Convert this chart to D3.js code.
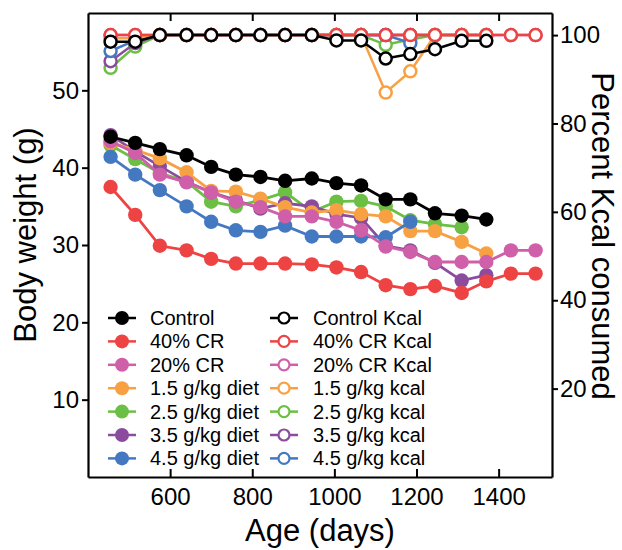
<!DOCTYPE html>
<html>
<head>
<meta charset="utf-8">
<script src="https://cdn.jsdelivr.net/npm/d3@7"></script>
<style>
  body { margin: 0; background: #fff; }
  text { font-family: Arial, "Liberation Sans", sans-serif; fill: #000; }
</style>
</head>
<body>
<div id="chart"></div>
<script>
// ages (days) at which the measurements were taken
const ages = [455, 515, 575, 640, 700, 760, 820, 880, 945, 1005, 1065, 1125, 1185, 1245, 1310, 1370, 1430, 1490];

// body weight (g)
const bwControl = [44.0, 43.2, 42.4, 41.6, 40.1, 39.1, 38.8, 38.3, 38.6, 38.0, 37.7, 35.9, 35.9, 34.1, 33.8, 33.3];
const bwCR40 = [37.5, 33.9, 29.9, 29.3, 28.2, 27.6, 27.6, 27.6, 27.5, 27.1, 26.5, 24.8, 24.3, 24.7, 23.8, 25.3, 26.3, 26.3];
const bwCR20 = [43.4, 41.9, 39.1, 38.1, 36.8, 35.6, 34.9, 33.7, 33.7, 33.0, 31.9, 29.8, 29.1, 27.8, 27.8, 27.8, 29.3, 29.3];
const bwD15 = [43.2, 42.3, 41.2, 39.4, 37.0, 36.9, 36.0, 34.9, 34.2, 34.5, 34.0, 33.7, 31.8, 31.8, 30.4, 28.9];
const bwD25 = [42.9, 41.1, 39.3, 38.2, 35.6, 35.0, 35.8, 36.8, 34.3, 35.6, 35.7, 35.0, 33.2, 32.7, 32.3];
const bwD35 = [44.2, 42.1, 40.2, 38.2, 36.8, 35.8, 34.7, 35.4, 35.0, 34.0, 33.5, 29.9, 29.3, 27.7, 25.4, 26.1];
const bwD45 = [41.4, 39.1, 37.1, 35.0, 33.0, 31.9, 31.7, 32.5, 31.1, 31.1, 31.1, 31.0, 33.0];

// percent kcal consumed
const kcControl = [98.5, 98.5, 100, 100, 100, 100, 100, 100, 100, 98.8, 98.8, 94.7, 95.7, 96.8, 98.7, 98.7];
const kcCR40 = [100, 100, 100, 100, 100, 100, 100, 100, 100, 100, 100, 100, 100, 100, 100, 100, 100, 100];
const kcCR20 = [100, 100, 100, 100, 100, 100, 100, 100, 100, 100, 100, 100, 100, 100, 100, 100, 100, 100];
const kcD15 = [99.3, 99.3, 100, 100, 100, 100, 100, 100, 100, 100, 100, 87.0, 91.8, 100, 100, 100];
const kcD25 = [92.6, 97.4, 100, 100, 100, 100, 100, 100, 100, 100, 100, 97.8, 99.0, 100, 100];
const kcD35 = [94.1, 98.2, 100, 100, 100, 100, 100, 100, 100, 100, 100, 100, 100, 100, 100, 100];
const kcD45 = [96.4, 98.8, 100, 100, 100, 100, 100, 100, 100, 100, 100, 100, 98.2];

const xTicks = [600, 800, 1000, 1200, 1400];
const yLeftTicks = [10, 20, 30, 40, 50];
const yRightTicks = [20, 40, 60, 80, 100];

const colors = {
    control: "#000000", cr40: "#ee4343", cr20: "#d05fa9",
    d15: "#f8a143", d25: "#6cbf45", d35: "#8b4c9e", d45: "#4479c2"
};

// series lists: order is the drawing order (last on top)
let bwSeries = [
    {name: "2.5 g/kg diet", key: "d25", values: bwD25},
    {name: "3.5 g/kg diet", key: "d35", values: bwD35},
    {name: "1.5 g/kg diet", key: "d15", values: bwD15},
    {name: "4.5 g/kg diet", key: "d45", values: bwD45},
    {name: "40% CR", key: "cr40", values: bwCR40},
    {name: "20% CR", key: "cr20", values: bwCR20},
    {name: "Control", key: "control", values: bwControl}
];
let kcSeries = [
    {name: "20% CR Kcal", key: "cr20", values: kcCR20},
    {name: "2.5 g/kg kcal", key: "d25", values: kcD25},
    {name: "3.5 g/kg kcal", key: "d35", values: kcD35},
    {name: "4.5 g/kg kcal", key: "d45", values: kcD45},
    {name: "1.5 g/kg kcal", key: "d15", values: kcD15},
    {name: "40% CR Kcal", key: "cr40", values: kcCR40},
    {name: "Control Kcal", key: "control", values: kcControl}
];
const legendLeft = ["control", "cr40", "cr20", "d15", "d25", "d35", "d45"];
const legendLeftNames = ["Control", "40% CR", "20% CR", "1.5 g/kg diet", "2.5 g/kg diet", "3.5 g/kg diet", "4.5 g/kg diet"];
const legendRightNames = ["Control Kcal", "40% CR Kcal", "20% CR Kcal", "1.5 g/kg kcal", "2.5 g/kg kcal", "3.5 g/kg kcal", "4.5 g/kg kcal"];

const width = 622, height = 550;
const margin = {top: 13, right: 70, bottom: 73, left: 88};
const plotW = width - margin.left - margin.right;
const plotH = height - margin.top - margin.bottom;

let svg = d3.select("#chart")
    .append("svg")
    .attr("width", width)
    .attr("height", height)
    .append("g")
    .attr("transform", `translate(${margin.left}, ${margin.top})`);

let x = d3.scaleLinear().domain([400, 1530]).range([0, plotW]);
let yL = d3.scaleLinear().domain([0, 60]).range([plotH, 0]);
let yR = d3.scaleLinear().domain([0, 105]).range([plotH, 0]);

// axes
svg.append("g")
    .attr("transform", `translate(0, ${plotH})`)
    .call(d3.axisBottom(x).tickValues(xTicks).tickFormat(d3.format("d"))
        .tickSize(-8).tickPadding(11).tickSizeOuter(0));
svg.append("g")
    .call(d3.axisTop(x).tickValues(xTicks).tickSize(-8).tickFormat("").tickSizeOuter(0));
svg.append("g")
    .call(d3.axisLeft(yL).tickValues(yLeftTicks).tickSize(6).tickPadding(3).tickSizeOuter(0));
svg.append("g")
    .attr("transform", `translate(${plotW}, 0)`)
    .call(d3.axisRight(yR).tickValues(yRightTicks).tickSize(6).tickPadding(2).tickSizeOuter(0));

svg.selectAll(".domain").attr("stroke", "#000").attr("stroke-width", 2.2);
svg.selectAll(".tick line").attr("stroke", "#000").attr("stroke-width", 2);
svg.selectAll(".tick text")
    .style("font-size", "24px")
    .style("font-family", "Arial, 'Liberation Sans', sans-serif")
    .attr("fill", "#000");

// axis titles
svg.append("text")
    .attr("transform", `translate(${320 - margin.left}, ${541 - margin.top})`)
    .style("text-anchor", "middle")
    .style("font-size", "31px")
    .text("Age (days)");

svg.append("text")
    .attr("transform", `translate(${36 - margin.left}, ${235 - margin.top})rotate(-90)`)
    .style("text-anchor", "middle")
    .style("font-size", "31px")
    .text("Body weight (g)");

svg.append("text")
    .attr("transform", `translate(${592 - margin.left}, ${236 - margin.top})rotate(90)`)
    .style("text-anchor", "middle")
    .style("font-size", "31px")
    .text("Percent Kcal consumed");

// kcal series (open circles)
let kcLine = d3.line()
    .x(function(d, i) { return x(ages[i]); })
    .y(function(d) { return yR(d); });

kcSeries.forEach(function(s) {
    let g = svg.append("g");
    g.append("path")
        .attr("d", kcLine(s.values))
        .attr("fill", "none")
        .attr("stroke", colors[s.key])
        .attr("stroke-width", 2.5);
    g.selectAll("circle").data(s.values).enter()
        .append("circle")
        .attr("cx", function(d, i) { return x(ages[i]); })
        .attr("cy", function(d) { return yR(d); })
        .attr("r", 6)
        .attr("fill", "#fff")
        .attr("stroke", colors[s.key])
        .attr("stroke-width", 2.5);
});

// body weight series (filled circles)
let bwLine = d3.line()
    .x(function(d, i) { return x(ages[i]); })
    .y(function(d) { return yL(d); });

bwSeries.forEach(function(s) {
    let g = svg.append("g");
    g.append("path")
        .attr("d", bwLine(s.values))
        .attr("fill", "none")
        .attr("stroke", colors[s.key])
        .attr("stroke-width", 2.8);
    g.selectAll("circle").data(s.values).enter()
        .append("circle")
        .attr("cx", function(d, i) { return x(ages[i]); })
        .attr("cy", function(d) { return yL(d); })
        .attr("r", 7.2)
        .attr("fill", colors[s.key]);
});

// legend
let legend = svg.append("g")
    .attr("transform", `translate(${-margin.left}, ${-margin.top})`);

legendLeft.forEach(function(key, i) {
    let yy = 318 + i * 23.4;
    legend.append("line")
        .attr("x1", 108).attr("x2", 136)
        .attr("y1", yy).attr("y2", yy)
        .attr("stroke", colors[key]).attr("stroke-width", 2.5);
    legend.append("circle")
        .attr("cx", 122).attr("cy", yy).attr("r", 7)
        .attr("fill", colors[key]);
    legend.append("text")
        .attr("x", 150).attr("y", yy + 7)
        .style("font-size", "20px")
        .text(legendLeftNames[i]);

    legend.append("line")
        .attr("x1", 270).attr("x2", 298)
        .attr("y1", yy).attr("y2", yy)
        .attr("stroke", colors[key]).attr("stroke-width", 2.5);
    legend.append("circle")
        .attr("cx", 284).attr("cy", yy).attr("r", 5.5)
        .attr("fill", "#fff")
        .attr("stroke", colors[key]).attr("stroke-width", 2.2);
    legend.append("text")
        .attr("x", 313).attr("y", yy + 7)
        .style("font-size", "20px")
        .text(legendRightNames[i]);
});
</script>
</body>
</html>
